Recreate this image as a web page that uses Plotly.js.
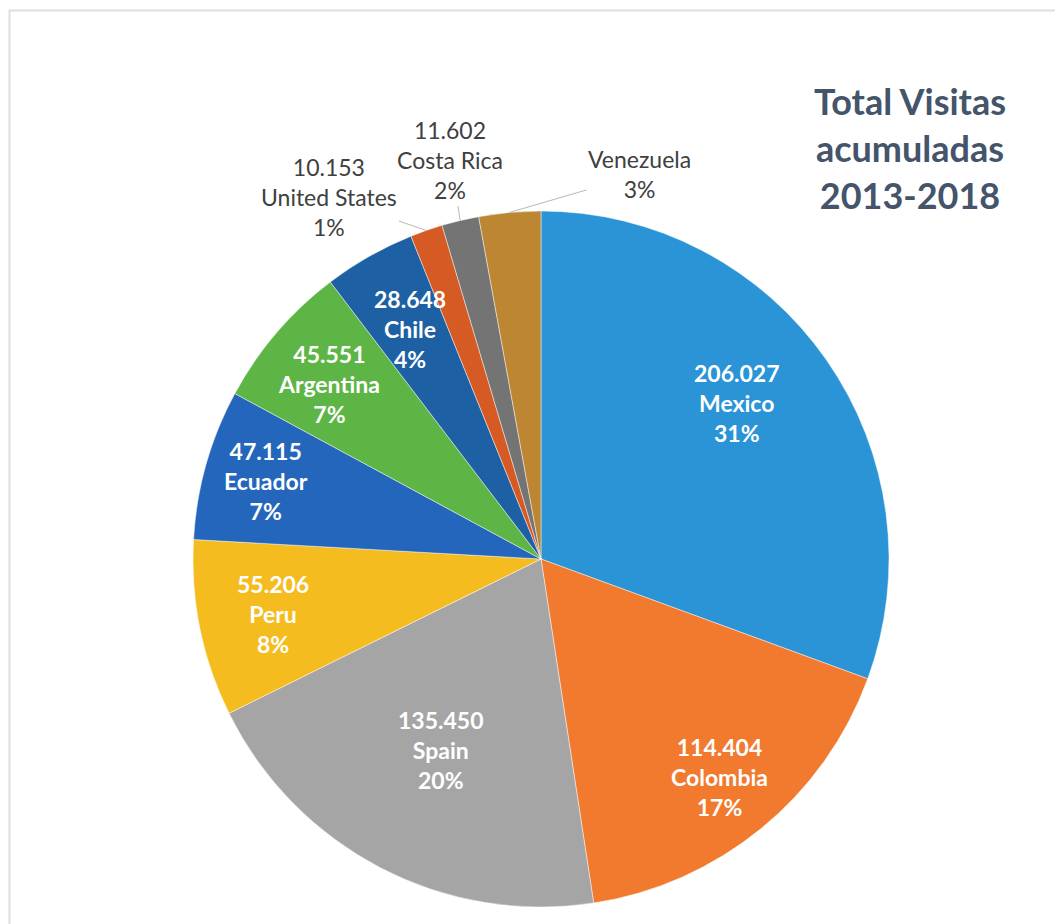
<!DOCTYPE html>
<html>
<head>
<meta charset="utf-8">
<script src="https://cdn.plot.ly/plotly-3.0.1.min.js"></script>
<style>
  html, body { margin: 0; padding: 0; background: #ffffff; }
  #chart { width: 1055px; height: 924px; }
</style>
</head>
<body>
<div id="chart"></div>
<script>
// ---- data ----
const countries = ['Mexico', 'Colombia', 'Spain', 'Peru', 'Ecuador', 'Argentina', 'Chile', 'United States', 'Costa Rica', 'Venezuela'];
const visits = [206027, 114404, 135450, 55206, 47115, 45551, 28648, 10153, 11602, 19300];
const valueLabels = ['206.027', '114.404', '135.450', '55.206', '47.115', '45.551', '28.648', '10.153', '11.602', ''];
const percentLabels = ['31%', '17%', '20%', '8%', '7%', '7%', '4%', '1%', '2%', '3%'];
const titleText = 'Total Visitas<br>acumuladas<br>2013-2018';

// ---- styling ----
const colors = ['#2A94D6', '#F27A2F', '#A6A5A6', '#F5BC20', '#2466BC', '#5DB546', '#1D61A4', '#D65A24', '#747474', '#BC8632'];
const insideLabel = [true, true, true, true, true, true, true, false, false, false];
const labelRadius = [0.72, 0.81, 0.62, 0.785, 0.82, 0.79, 0.76, 1, 1, 1];
const labelAngleShift = [-3.6, 0, 0, 0, 0, -1, 0, 0, 0, 0];
const outsideOffset = { 7: [-97, -33], 8: [-10, -60], 9: [130, -38] };

const W = 1055, H = 924, CX = 541, CY = 559, R = 348;

const total = visits.reduce((a, b) => a + b, 0);
let cum = 0;
const annotations = [];
visits.forEach((v, i) => {
  const mid = (cum + v / 2) / total * 2 * Math.PI + labelAngleShift[i] * Math.PI / 180;
  cum += v;
  const rr = R * labelRadius[i];
  const px = CX + rr * Math.sin(mid);
  const py = CY - rr * Math.cos(mid);
  const lines = [];
  if (valueLabels[i]) lines.push(valueLabels[i]);
  lines.push(countries[i]);
  lines.push(percentLabels[i]);
  if (insideLabel[i]) {
    annotations.push({
      x: px / W, y: 1 - py / H, xref: 'paper', yref: 'paper',
      text: '<b>' + lines.join('<br>') + '</b>', showarrow: false,
      align: 'center', xanchor: 'center', yanchor: 'middle',
      font: { family: 'Lato, sans-serif', size: 23, color: '#ffffff' }
    });
  } else {
    const off = outsideOffset[i];
    annotations.push({
      x: px / W, y: 1 - py / H, xref: 'paper', yref: 'paper',
      text: lines.join('<br>'), showarrow: true, arrowhead: 0,
      arrowwidth: 1, arrowcolor: '#b8b8b8', standoff: 0,
      ax: off[0], ay: off[1], align: 'center',
      font: { family: 'Lato, sans-serif', size: 23, color: '#404040' }
    });
  }
});

const trace = {
  type: 'pie',
  labels: countries,
  values: visits,
  sort: false,
  direction: 'clockwise',
  rotation: 0,
  textinfo: 'none',
  hoverinfo: 'label+value+percent',
  marker: { colors: colors, line: { color: 'rgba(255,255,255,0.45)', width: 1 } },
  domain: { x: [(CX - R) / W, (CX + R) / W], y: [1 - (CY + R) / H, 1 - (CY - R) / H] },
  showlegend: false
};

const layout = {
  width: W, height: H,
  margin: { l: 0, r: 0, t: 0, b: 0 },
  paper_bgcolor: '#ffffff',
  showlegend: false,
  title: {
    text: '<b>' + titleText + '</b>',
    x: 910 / W, xanchor: 'center', y: 1 - 115 / H, yanchor: 'top',
    font: { family: 'Lato, sans-serif', size: 36, color: '#44546A' }
  },
  annotations: annotations,
  shapes: [{
    type: 'rect', xref: 'paper', yref: 'paper',
    x0: 9.5 / W, x1: 1.02, y0: -0.02, y1: 1 - 10.5 / H,
    line: { color: '#dedede', width: 2 }, layer: 'below'
  }]
};

Plotly.newPlot('chart', [trace], layout, { displayModeBar: false, staticPlot: true });
</script>
</body>
</html>
